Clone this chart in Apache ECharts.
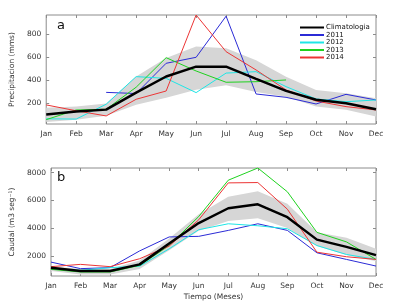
<!DOCTYPE html>
<html>
<head>
<meta charset="utf-8">
<script src="https://cdn.jsdelivr.net/npm/echarts@6/dist/echarts.min.js"></script>
<style>
html, body { margin: 0; padding: 0; background: #fff; }
#chart { width: 396px; height: 302px; }
</style>
</head>
<body>
<div id="chart"></div>
<script>
// months on both panels
var months = ['Jan', 'Feb', 'Mar', 'Apr', 'May', 'Jun', 'Jul', 'Aug', 'Sep', 'Oct', 'Nov', 'Dec'];

// panel a: precipitation (mms)
var precClim = [100, 125, 142, 290, 430, 516, 516, 410, 305, 228, 197, 145];
var precLow = [35, 55, 88, 185, 245, 315, 355, 295, 255, 170, 140, 82];
var precHigh = [158, 170, 195, 430, 590, 690, 675, 572, 428, 313, 284, 240];
var prec2011 = [null, null, 292, 282, 545, 597, 955, 278, 249, 191, 275, 226];
var prec2012 = [62, 60, 189, 429, 414, 290, 460, 472, 342, 235, 211, 226];
var prec2013 = [55, 139, 145, 337, 594, 478, 380, 385, 400, null, null, null];
var prec2014 = [183, 132, 87, 232, 304, 965, 646, 487, 313, 217, 168, 139];
var precTicks = [200, 400, 600, 800];

// panel b: caudal (m3/s)
var flowClim = [1143, 900, 900, 1379, 2879, 4357, 5427, 5713, 4786, 3164, 2643, 2043];
var flowLow = [900, 650, 650, 1050, 2400, 3800, 4500, 4700, 4000, 2700, 2050, 1600];
var flowHigh = [1250, 1050, 1050, 1650, 3250, 5000, 6250, 6650, 5750, 3700, 3300, 2500];
var flow2011 = [1543, 1071, 1143, 2350, 3357, 3400, 3829, 4307, 3829, 2214, 1736, 1257];
var flow2012 = [1050, 950, 1143, 1250, 2500, 3879, 4307, 4164, 3950, 2736, 2093, 1736];
var flow2013 = [1021, 829, 829, 1307, 2736, 4829, 7450, 8330, 6614, 3686, 3000, 1736];
var flow2014 = [1214, 1379, 1214, 1786, 2700, 4593, 7257, 7280, 5357, 2257, 1929, 1736];
var flowTicks = [2000, 4000, 6000, 8000];

var yearNames = ['2011', '2012', '2013', '2014'];
var yearColors = ['#2b2bd6', '#1ee6e6', '#1fd21f', '#ec3535'];

var frameColor = '#8c8c8c';
var labelFont = { fontFamily: 'DejaVu Sans', fontSize: 7.5, color: '#333' };

function diff(hi, lo) {
	var out = [];
	for (var i = 0; i < hi.length; i++) out.push(hi[i] - lo[i]);
	return out;
}

function xAx(gi, bottom) {
	return {
		type: 'category', gridIndex: gi, data: months, boundaryGap: false,
		position: bottom ? 'bottom' : 'top',
		axisLine: { show: false },
		axisTick: { show: true, inside: true, length: 3, lineStyle: { color: frameColor } },
		axisLabel: bottom ? Object.assign({ margin: 6, interval: 0 }, labelFont) : { show: false },
		splitLine: { show: false }
	};
}

function yAx(gi, left, min, max, ticks, name) {
	var ax = {
		type: 'value', gridIndex: gi, min: min, max: max,
		position: left ? 'left' : 'right',
		axisLine: { show: false },
		axisTick: { show: true, inside: true, length: 3, customValues: ticks, lineStyle: { color: frameColor } },
		axisLabel: left ? Object.assign({ margin: 5, customValues: ticks,
			formatter: function (v) { return String(v); } }, labelFont) : { show: false },
		splitLine: { show: false }
	};
	if (name) {
		ax.name = name;
		ax.nameLocation = 'middle';
		ax.nameGap = 22;
		ax.nameTextStyle = { fontFamily: 'DejaVu Sans', fontSize: 7.5, color: '#333' };
	}
	return ax;
}

function band(lo, hi, xi, yi, tag) {
	return [{
		type: 'line', name: 'lo' + tag, xAxisIndex: xi, yAxisIndex: yi, data: lo,
		stack: 'band' + tag, symbol: 'none', silent: true,
		lineStyle: { opacity: 0 }, z: 1
	}, {
		type: 'line', name: 'hi' + tag, xAxisIndex: xi, yAxisIndex: yi, data: diff(hi, lo),
		stack: 'band' + tag, symbol: 'none', silent: true,
		lineStyle: { opacity: 0 }, areaStyle: { color: '#d6d6d6', opacity: 1 }, z: 1
	}];
}

function line(name, data, color, width, xi, yi, z) {
	return {
		type: 'line', name: name, xAxisIndex: xi, yAxisIndex: yi, data: data,
		symbol: 'none', connectNulls: false,
		lineStyle: { color: color, width: width }, itemStyle: { color: color }, z: z
	};
}

var series = [];
series = series.concat(band(precLow, precHigh, 0, 0, 'a'));
series = series.concat(band(flowLow, flowHigh, 2, 2, 'b'));

var precYears = [prec2011, prec2012, prec2013, prec2014];
var flowYears = [flow2011, flow2012, flow2013, flow2014];
for (var i = 0; i < yearNames.length; i++) {
	series.push(line(yearNames[i], precYears[i], yearColors[i], 1, 0, 0, 3));
	series.push(line(yearNames[i], flowYears[i], yearColors[i], 1, 2, 2, 3));
}
series.push(line('Climatologia', precClim, '#000', 2.5, 0, 0, 4));
series.push(line('Climatologia', flowClim, '#000', 2.5, 2, 2, 4));

var option = {
	animation: false,
	backgroundColor: '#fff',
	grid: [
		{ left: 45, top: 15, width: 331, height: 109, show: true, borderColor: frameColor, borderWidth: 1, backgroundColor: 'transparent' },
		{ left: 45, top: 168, width: 331, height: 109, show: true, borderColor: frameColor, borderWidth: 1, backgroundColor: 'transparent' }
	],
	xAxis: [
		xAx(0, true), xAx(0, false),
		Object.assign(xAx(1, true), { name: 'Tiempo (Meses)', nameLocation: 'middle', nameGap: 17,
			nameTextStyle: { fontFamily: 'DejaVu Sans', fontSize: 7.5, color: '#333' } }),
		xAx(1, false)
	],
	yAxis: [
		yAx(0, true, 17, 965, precTicks, 'Precipitacion (mms)'),
		yAx(0, false, 17, 965, precTicks),
		yAx(1, true, 540, 8330, flowTicks, 'Caudal (m3 seg\u207B\u00B9)'),
		yAx(1, false, 540, 8330, flowTicks)
	],
	legend: {
		data: ['Climatologia'].concat(yearNames),
		orient: 'vertical', left: 299, top: 24,
		itemWidth: 24, itemHeight: 8, itemGap: 0.5,
		itemStyle: { opacity: 0 },
		textStyle: { fontFamily: 'DejaVu Sans', fontSize: 7, color: '#111', padding: [0, 0, 0, -3] },
		padding: 0
	},
	graphic: [
		{ type: 'text', left: 57, top: 19, style: { text: 'a', font: '13px DejaVu Sans', fill: '#111' } },
		{ type: 'text', left: 57, top: 171, style: { text: 'b', font: '13px DejaVu Sans', fill: '#111' } }
	],
	series: series
};

var myChart = echarts.init(document.getElementById('chart'));
myChart.setOption(option);
</script>
</body>
</html>
